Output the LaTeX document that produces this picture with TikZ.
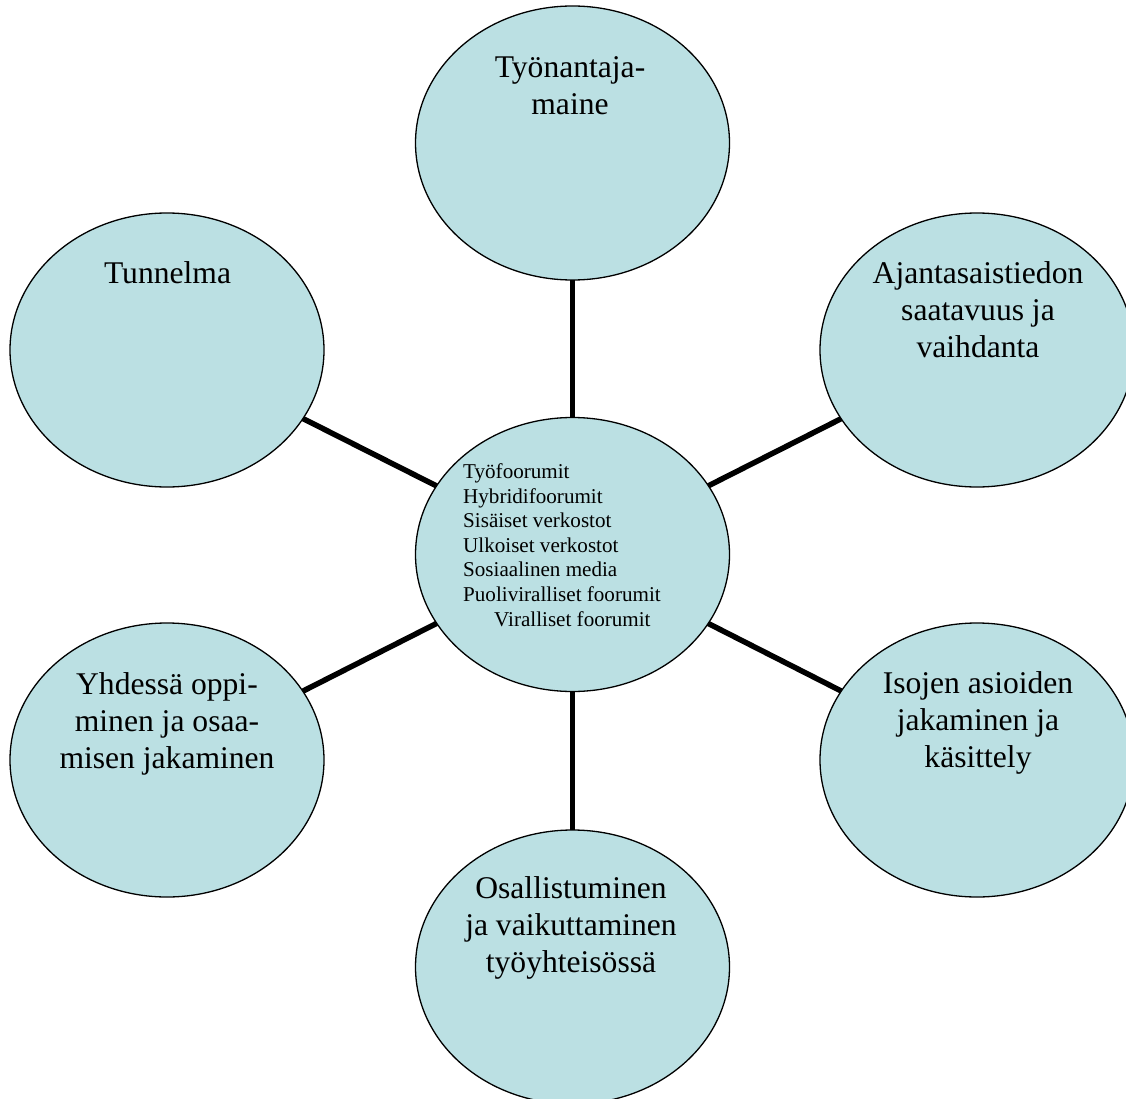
\documentclass[tikz,border=0pt]{standalone}
\usepackage{fontspec}
\setmainfont{Liberation Serif}
\usetikzlibrary{shapes.geometric,backgrounds}
\definecolor{bubble}{RGB}{187,224,227}
\begin{document}
\begin{tikzpicture}[x=1pt,y=-1pt,
  bubble/.style={ellipse,draw=black,line width=1.3pt,fill=bubble,
    minimum width=314pt,minimum height=274pt,inner sep=0pt,outer sep=0pt},
  bigtext/.style={font=\fontsize{31.6}{37}\selectfont,align=center,anchor=base,inner sep=0pt},
  smalltext/.style={font=\fontsize{21.1}{24.6}\selectfont,align=left,anchor=base west,inner sep=0pt},
  link/.style={line width=5.5pt}]
\useasboundingbox (0,0) rectangle (1126,1099);
\clip (0,0) rectangle (1126,1099);
\node[bubble] (top) at (572.5,143) {};
\node[bubble] (tl) at (167,350) {};
\node[bubble] (tr) at (977,350) {};
\node[bubble] (c) at (572.5,554.5) {};
\node[bubble] (bl) at (167,760) {};
\node[bubble] (br) at (977,760) {};
\node[bubble] (bot) at (572.5,967) {};
\begin{scope}[on background layer]
\draw[link] (c) -- (top);
\draw[link] (c) -- (tl);
\draw[link] (c) -- (tr);
\draw[link] (c) -- (bl);
\draw[link] (c) -- (br);
\draw[link] (c) -- (bot);
\end{scope}
% base anchor of a multi-line node sits on its last line
\node[bigtext] (ttop) at (570,115) {Työnantaja-\\maine};
\node[bigtext] (ttl) at (167.5,283) {Tunnelma};
\node[bigtext] (ttr) at (978,357) {Ajantasaistiedon\\saatavuus ja\\vaihdanta};
\node[bigtext] (tbr) at (978,767) {Isojen asioiden\\jakaminen ja\\käsittely};
\node[bigtext] (tbl) at (167,768) {Yhdessä oppi-\\minen ja osaa-\\misen jakaminen};
\node[bigtext] (tbot) at (571,972) {Osallistuminen\\ja vaikuttaminen\\työyhteisössä};
\node[smalltext] (tc) at (463,626) {Työfoorumit\\Hybridifoorumit\\Sisäiset verkostot\\Ulkoiset verkostot\\Sosiaalinen media\\Puoliviralliset foorumit\\\hspace*{31pt}Viralliset foorumit};
\end{tikzpicture}
\end{document}
